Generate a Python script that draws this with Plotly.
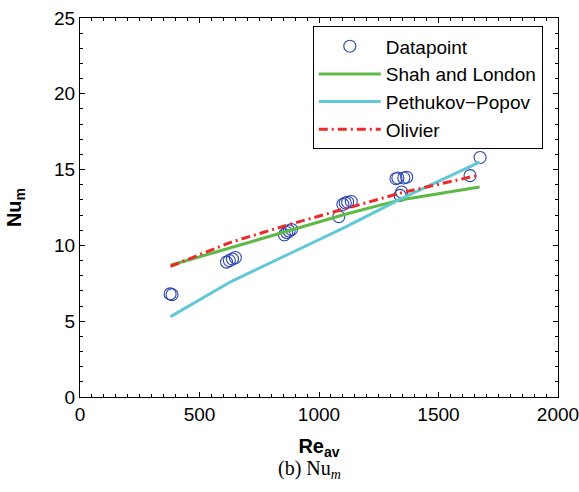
import plotly.graph_objects as go

# Data
re_data = [377, 385, 613, 625, 638, 650, 855, 865, 875, 885, 1083, 1100, 1110, 1120, 1135,
           1322, 1330, 1339, 1346, 1355, 1367, 1632, 1674]
nu_data = [6.8, 6.75, 8.9, 9.0, 9.1, 9.2, 10.7, 10.85, 10.95, 11.05, 11.9, 12.7, 12.8, 12.85, 12.9,
           14.4, 14.45, 13.3, 13.52, 14.45, 14.5, 14.6, 15.8]

re_model = [379, 630, 870, 1110, 1340, 1672]
nu_shah_london = [8.69, 9.85, 10.95, 12.05, 13.0, 13.85]
nu_pethukov_popov = [5.3, 7.6, 9.4, 11.2, 13.05, 15.5]
nu_olivier = [8.62, 10.2, 11.35, 12.4, 13.45, 14.65]

x_ticks = [0, 500, 1000, 1500, 2000]
y_ticks = [0, 5, 10, 15, 20, 25]

FONT = "Liberation Sans, Arial, sans-serif"

fig = go.Figure()
fig.add_trace(go.Scatter(
    x=re_data, y=nu_data, mode="markers", name="Datapoint",
    marker=dict(symbol="circle-open", size=12, color="#2b45b0", line=dict(width=1.1, color="#2b45b0")),
))
fig.add_trace(go.Scatter(
    x=re_model, y=nu_shah_london, mode="lines", name="Shah and London",
    line=dict(color="#5fb946", width=3),
))
fig.add_trace(go.Scatter(
    x=re_model, y=nu_pethukov_popov, mode="lines", name="Pethukov\u2212Popov",
    line=dict(color="#62c8d5", width=3),
))
fig.add_trace(go.Scatter(
    x=re_model, y=nu_olivier, mode="lines", name="Olivier",
    line=dict(color="#ec2a2a", width=3, dash="9px,4px,2px,4px"),
))

axis_common = dict(
    showgrid=False, zeroline=False, showline=True, linecolor="black", linewidth=1,
    mirror="ticks", ticks="inside", ticklen=5, tickcolor="black", tickwidth=1,
    tickfont=dict(family=FONT, size=19, color="black"),
    ticklabeloverflow="allow", automargin=False,
)

fig.update_xaxes(
    range=[0, 2000], tickvals=x_ticks, ticktext=[str(v) for v in x_ticks],
    minor=dict(dtick=50, ticks="inside", ticklen=3, tickcolor="black", tickwidth=1),
    title=dict(text="<b>Re<sub>av</sub></b>", font=dict(family=FONT, size=20, color="black"), standoff=15),
    **axis_common,
)
fig.update_yaxes(
    range=[0, 25], tickvals=y_ticks, ticktext=[str(v) for v in y_ticks],
    minor=dict(dtick=1, ticks="inside", ticklen=3, tickcolor="black", tickwidth=1),
    title=dict(text="<b>Nu<sub>m</sub></b>", font=dict(family=FONT, size=20, color="black"), standoff=27),
    **axis_common,
)

fig.update_layout(
    width=579, height=492,
    margin=dict(l=80, r=21, t=18, b=95),
    paper_bgcolor="white", plot_bgcolor="white",
    showlegend=True,
    legend=dict(
        x=0.487, y=0.978, xanchor="left", yanchor="top",
        bgcolor="white", bordercolor="black", borderwidth=1,
        font=dict(family=FONT, size=19, color="black"),
        itemwidth=62, tracegroupgap=0,
    ),
    annotations=[dict(
        text="(b) Nu<sub><i>m</i></sub>", xref="paper", yref="paper",
        x=0.48, y=-0.152, yanchor="top", xanchor="center", showarrow=False,
        font=dict(family="Liberation Serif, Times New Roman, serif", size=20, color="black"),
    )],
)

fig.write_html("out.html")
